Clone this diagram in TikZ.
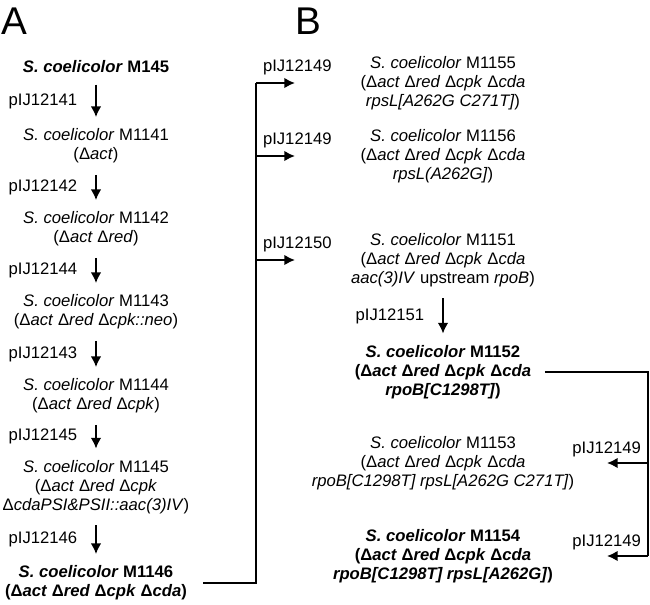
\documentclass[tikz,border=0pt]{standalone}
\usepackage{fontspec}
\setmainfont{Liberation Sans}
\usetikzlibrary{arrows.meta,calc,positioning}

\newcommand{\Sco}{\textit{S.~coelicolor}}
\newcommand{\dgene}[1]{Δ\textit{#1}}

\begin{document}
\begin{tikzpicture}[>={Latex[length=8pt,width=8pt]}, x=0.75pt, y=-0.75pt,
  strain/.style={align=center, inner sep=2pt, font=\fontsize{12.5}{14.3}\selectfont},
  keystrain/.style={strain, font=\fontsize{12.5}{14.3}\selectfont\bfseries},
  plasmid/.style={font=\fontsize{12.5}{14.3}\selectfont},
  panel/.style={font=\fontsize{29}{30}\selectfont, inner sep=0pt},
  link/.style={line width=1.5pt},
  stepline/.style={link, ->, shorten <=6.5pt, shorten >=6.5pt}]

  \useasboundingbox (0,0) rectangle (650,604);

  % Panel letters
  \node[panel] (lblA) at (14,21) {A};
  \node[panel] (lblB) at (308,21) {B};

  % Panel A: deletion series
  \node[keystrain] (m145) at (96,67) {\Sco{} M145};
  \node[strain] (m1141) at (96,146) {\Sco{} M1141\\(\dgene{act})};
  \node[strain] (m1142) at (96,229) {\Sco{} M1142\\(\dgene{act} \dgene{red})};
  \node[strain] (m1143) at (96,312) {\Sco{} M1143\\(\dgene{act} \dgene{red} \dgene{cpk::neo})};
  \node[strain] (m1144) at (96,396) {\Sco{} M1144\\(\dgene{act} \dgene{red} \dgene{cpk})};
  \node[strain] (m1145) at (96,487) {\Sco{} M1145\\(\dgene{act} \dgene{red} \dgene{cpk}\\\dgene{cdaPSI\&PSII::aac(3)IV})};
  \node[keystrain] (m1146) at (96,583) {\Sco{} M1146\\(\dgene{act} \dgene{red} \dgene{cpk} \dgene{cda})};

  \draw[stepline] (m145) -- node[plasmid, left=10pt] {pIJ12141} (m1141);
  \draw[stepline] (m1141) -- node[plasmid, left=10pt] {pIJ12142} (m1142);
  \draw[stepline] (m1142) -- node[plasmid, left=10pt] {pIJ12144} (m1143);
  \draw[stepline] (m1143) -- node[plasmid, left=10pt] {pIJ12143} (m1144);
  \draw[stepline] (m1144) -- node[plasmid, left=10pt] {pIJ12145} (m1145);
  \draw[stepline] (m1145) -- node[plasmid, left=10pt] {pIJ12146} (m1146);

  % Panel B: point mutants
  \node[strain] (m1155) at (443,83) {\Sco{} M1155\\(\dgene{act} \dgene{red} \dgene{cpk} \dgene{cda}\\\textit{rpsL[A262G C271T]})};
  \node[strain] (m1156) at (443,156) {\Sco{} M1156\\(\dgene{act} \dgene{red} \dgene{cpk} \dgene{cda}\\\textit{rpsL(A262G]})};
  \node[strain] (m1151) at (443,260) {\Sco{} M1151\\(\dgene{act} \dgene{red} \dgene{cpk} \dgene{cda}\\\textit{aac(3)IV} upstream \textit{rpoB})};
  \node[keystrain] (m1152) at (443,372) {\Sco{} M1152\\(\dgene{act} \dgene{red} \dgene{cpk} \dgene{cda}\\\textit{rpoB[C1298T]})};
  \node[strain] (m1153) at (443,463) {\Sco{} M1153\\(\dgene{act} \dgene{red} \dgene{cpk} \dgene{cda}\\\textit{rpoB[C1298T] rpsL[A262G C271T]})};
  \node[keystrain] (m1154) at (443,556) {\Sco{} M1154\\(\dgene{act} \dgene{red} \dgene{cpk} \dgene{cda}\\\textit{rpoB[C1298T] rpsL[A262G]})};

  \draw[stepline] (m1151) -- node[plasmid, left=10pt] {pIJ12151} (m1152);

  % Branches from M1146
  \coordinate (splitA) at (256,0);
  \coordinate (tipA) at (295,0);
  \draw[link, shorten <=10pt] (m1146.east) -| (splitA |- m1155);
  \draw[link,->] (splitA |- m1155) -- node[plasmid, pos=0, anchor=base west, inner sep=0pt, xshift=4.5pt, yshift=8.5pt] {pIJ12149} (tipA |- m1155);
  \draw[link,->] (splitA |- m1156) -- node[plasmid, pos=0, anchor=base west, inner sep=0pt, xshift=4.5pt, yshift=8.5pt] {pIJ12149} (tipA |- m1156);
  \draw[link,->] (splitA |- m1151) -- node[plasmid, pos=0, anchor=base west, inner sep=0pt, xshift=4.5pt, yshift=8.5pt] {pIJ12150} (tipA |- m1151);

  % Branches from M1152
  \coordinate (splitB) at (648,0);
  \coordinate (tipB) at (607,0);
  \draw[link, shorten <=8pt] (m1152.east) -| (splitB |- m1154);
  \draw[link,->] (splitB |- m1153) -- node[plasmid, pos=0, anchor=base east, inner sep=0pt, xshift=-4.5pt, yshift=7.5pt] {pIJ12149} (tipB |- m1153);
  \draw[link,->] (splitB |- m1154) -- node[plasmid, pos=0, anchor=base east, inner sep=0pt, xshift=-4.5pt, yshift=7.5pt] {pIJ12149} (tipB |- m1154);

\end{tikzpicture}
\end{document}
